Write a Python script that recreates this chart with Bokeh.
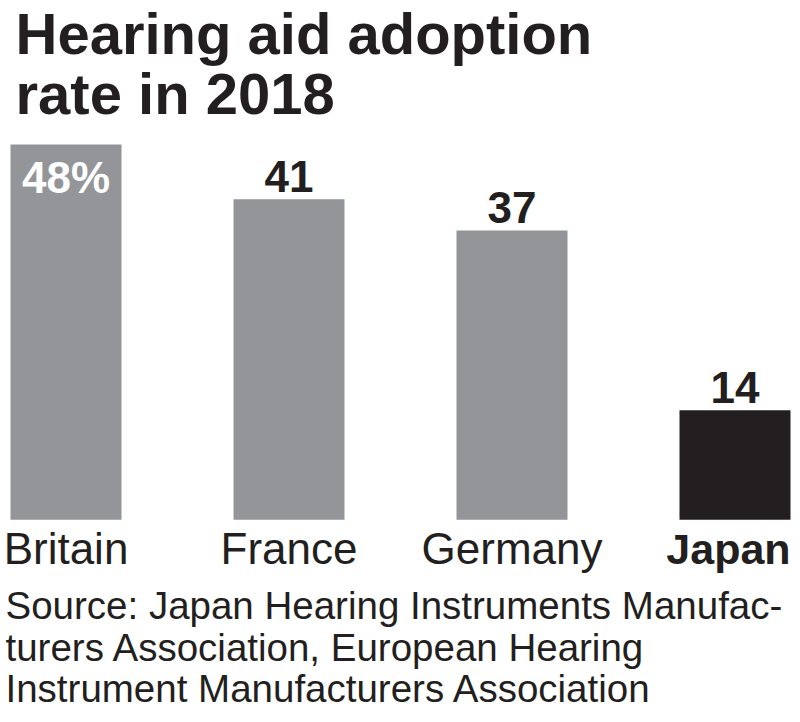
from bokeh.plotting import figure
from bokeh.models import Range1d, ColumnDataSource
from bokeh.core.properties import value
from bokeh.embed import file_html
from bokeh.resources import INLINE

# ---- data ----
categories = ["Britain", "France", "Germany", "Japan"]
adoption_rate = [48, 41, 37, 14]
value_labels = ["48%", "41", "37", "14"]
title_lines = ["Hearing aid adoption", "rate in 2018"]
source_lines = [
    "Source: Japan Hearing Instruments Manufac-",
    "turers Association, European Hearing",
    "Instrument Manufacturers Association",
]
highlight = "Japan"

# ---- layout constants (screen pixels of the page) ----
W, H = 800, 722
OFF = 0            # page offset of the plot frame
PX = 7.82          # pixels per percentage point
BASE_SY = 519.3    # page y of bar baseline
STEP = 223.0       # pixels between bar centres
C0 = 65.5          # page x of first bar centre
BL = 0.38          # svg baseline correction (fraction of font size)


def yd(sy):
    return (BASE_SY - sy) / PX


def xd(sx):
    return (sx - C0) / STEP


def ytext(sy, size):
    # page baseline -> data y for a text of given pixel size
    return yd(sy - BL * size)


GREY = "#939598"
DARK = "#231f20"
FONT = value("Liberation Sans")

p = figure(width=W, height=H, output_backend="svg", toolbar_location=None,
           x_range=Range1d(xd(OFF), xd(OFF + W)), y_range=Range1d(yd(OFF + H), yd(OFF)),
           x_axis_location=None, y_axis_location=None,
           min_border=0, min_border_left=0, min_border_right=0,
           min_border_top=0, min_border_bottom=0)
p.outline_line_color = None
p.xgrid.visible = False
p.ygrid.visible = False
p.background_fill_color = "white"
p.border_fill_color = "white"

xs = list(range(len(categories)))
colors = [DARK if c == highlight else GREY for c in categories]
src = ColumnDataSource(dict(x=xs, top=adoption_rate, color=colors))
p.vbar(x="x", top="top", bottom=0, width=111 / STEP, color="color", line_color=None, source=src)

# value labels: the first (largest) sits inside the bar in white, others above
VS = 44
in_x, in_y, in_t = [], [], []
out_x, out_y, out_t = [], [], []
for i, (v, t) in enumerate(zip(adoption_rate, value_labels)):
    top_sy = BASE_SY - v * PX
    if i == 0:
        in_x.append(i); in_y.append(ytext(top_sy + 50, VS)); in_t.append(t)
    else:
        out_x.append(i); out_y.append(ytext(top_sy - 6, VS)); out_t.append(t)
p.text(x=in_x, y=in_y, text=in_t, text_font=FONT, text_font_style="bold",
       text_font_size=value(f"{VS}px"), text_color="white",
       text_align="center", text_baseline="alphabetic")
p.text(x=out_x, y=out_y, text=out_t, text_font=FONT, text_font_style="bold",
       text_font_size=value(f"{VS}px"), text_color=DARK,
       text_align="center", text_baseline="alphabetic")

# category labels
norm = [(i, c) for i, c in enumerate(categories) if c != highlight]
hi = [(i, c) for i, c in enumerate(categories) if c == highlight]
p.text(x=[i for i, _ in norm], y=[ytext(565, 44)] * len(norm), text=[c for _, c in norm],
       text_font=FONT, text_font_size=value("44px"), text_color=DARK,
       text_align="center", text_baseline="alphabetic")
p.text(x=[xd(728) for _ in hi], y=[ytext(565, 43)] * len(hi), text=[c for _, c in hi],
       text_font=FONT, text_font_style="bold", text_font_size=value("43px"),
       text_color=DARK, text_align="center", text_baseline="alphabetic")

# title
p.text(x=[xd(15)] * len(title_lines), y=[ytext(55, 58), ytext(115, 58)], text=title_lines,
       text_font=FONT, text_font_style="bold", text_font_size=value("58px"),
       text_color=DARK, text_align="left", text_baseline="alphabetic")

# source
p.text(x=[xd(5)] * len(source_lines),
       y=[ytext(620, 38.5), ytext(662, 38.5), ytext(703, 38.5)], text=source_lines,
       text_font=FONT, text_font_size=value("38.5px"), text_color=DARK,
       text_align="left", text_baseline="alphabetic")

open("out.html", "w").write(file_html(p, INLINE))
